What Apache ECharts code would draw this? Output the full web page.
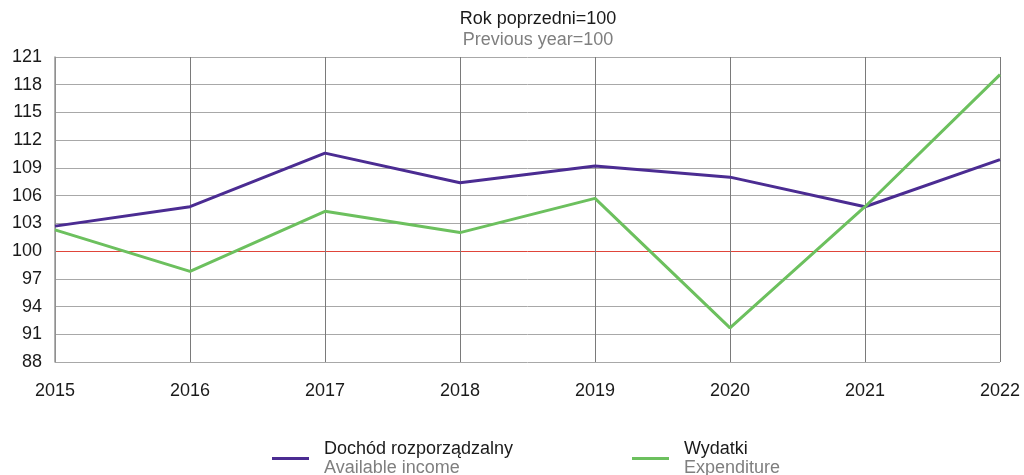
<!DOCTYPE html>
<html><head><meta charset="utf-8">
<script src="https://cdn.jsdelivr.net/npm/echarts@6/dist/echarts.min.js"></script>
<style>html,body{margin:0;padding:0;background:#fff}#c{width:1024px;height:475px}</style>
</head><body><div id="c"></div>
<script>
const years = ['2015','2016','2017','2018','2019','2020','2021','2022'];
const income = [102.7, 104.8, 110.6, 107.4, 109.2, 108.0, 104.8, 109.9];
const expenditure = [102.3, 97.8, 104.3, 102.0, 105.7, 91.7, 104.8, 119.1];
const incomeName = ['Dochód rozporządzalny', 'Available income'];
const expName = ['Wydatki', 'Expenditure'];
const titleLines = ['Rok poprzedni=100', 'Previous year=100'];

const FONT = '"Liberation Sans", Arial, sans-serif';
const G = '#a8a8a8', RED = '#e0453a';
const chart = echarts.init(document.getElementById('c'));
const legendCommon = {
  orient: 'horizontal', top: 435, icon: 'rect', itemWidth: 37, itemHeight: 3, itemGap: 0,
  selectedMode: false,
  textStyle: { fontFamily: FONT, padding: [0,0,0,10],
    rich: { a: { fontSize: 18, color: '#1a1a1a', fontFamily: FONT, lineHeight: 19 },
            b: { fontSize: 18, color: '#7f7f7f', fontFamily: FONT, lineHeight: 19 } } }
};
chart.setOption({
  animation: false,
  title: {
    text: titleLines[0], subtext: titleLines[1], left: 533, top: 4, textAlign: 'center', itemGap: 0,
    textStyle: { fontFamily: FONT, fontSize: 18, fontWeight: 'normal', color: '#1a1a1a', lineHeight: 21 },
    subtextStyle: { fontFamily: FONT, fontSize: 18, color: '#7f7f7f', lineHeight: 20 }
  },
  legend: [
    Object.assign({}, legendCommon, { left: 267, data: [incomeName[0]],
      formatter: () => '{a|' + incomeName[0] + '}\n{b|' + incomeName[1] + '}' }),
    Object.assign({}, legendCommon, { left: 627, data: [expName[0]],
      formatter: () => '{a|' + expName[0] + '}\n{b|' + expName[1] + '}' })
  ],
  grid: { left: 55, right: 24, top: 57, bottom: 113, containLabel: false },
  xAxis: {
    type: 'category', data: years, boundaryGap: false,
    axisLine: { show: false }, axisTick: { show: false },
    axisLabel: { fontFamily: FONT, fontSize: 18, color: '#1a1a1a', margin: 20, interval: 0 },
    splitLine: { show: true, lineStyle: { color: '#7a7a7a', width: 1 } }
  },
  yAxis: {
    type: 'value', min: 88, max: 121, interval: 3,
    axisLine: { show: true, lineStyle: { color: '#999', width: 1.5 } }, axisTick: { show: false },
    axisLabel: { fontFamily: FONT, fontSize: 18, color: '#1a1a1a', margin: 13 },
    splitLine: { show: true, lineStyle: { color: [G, G, G, G, RED, G, G, G, G, G, G, G], width: 1 } }
  },
  series: [
    { name: incomeName[0], type: 'line', data: income, symbol: 'none',
      lineStyle: { color: '#4b2c92', width: 3 }, itemStyle: { color: '#4b2c92' }, z: 3 },
    { name: expName[0], type: 'line', data: expenditure, symbol: 'none',
      lineStyle: { color: '#6cc05e', width: 3 }, itemStyle: { color: '#6cc05e' }, z: 4 }
  ]
});
</script></body></html>
